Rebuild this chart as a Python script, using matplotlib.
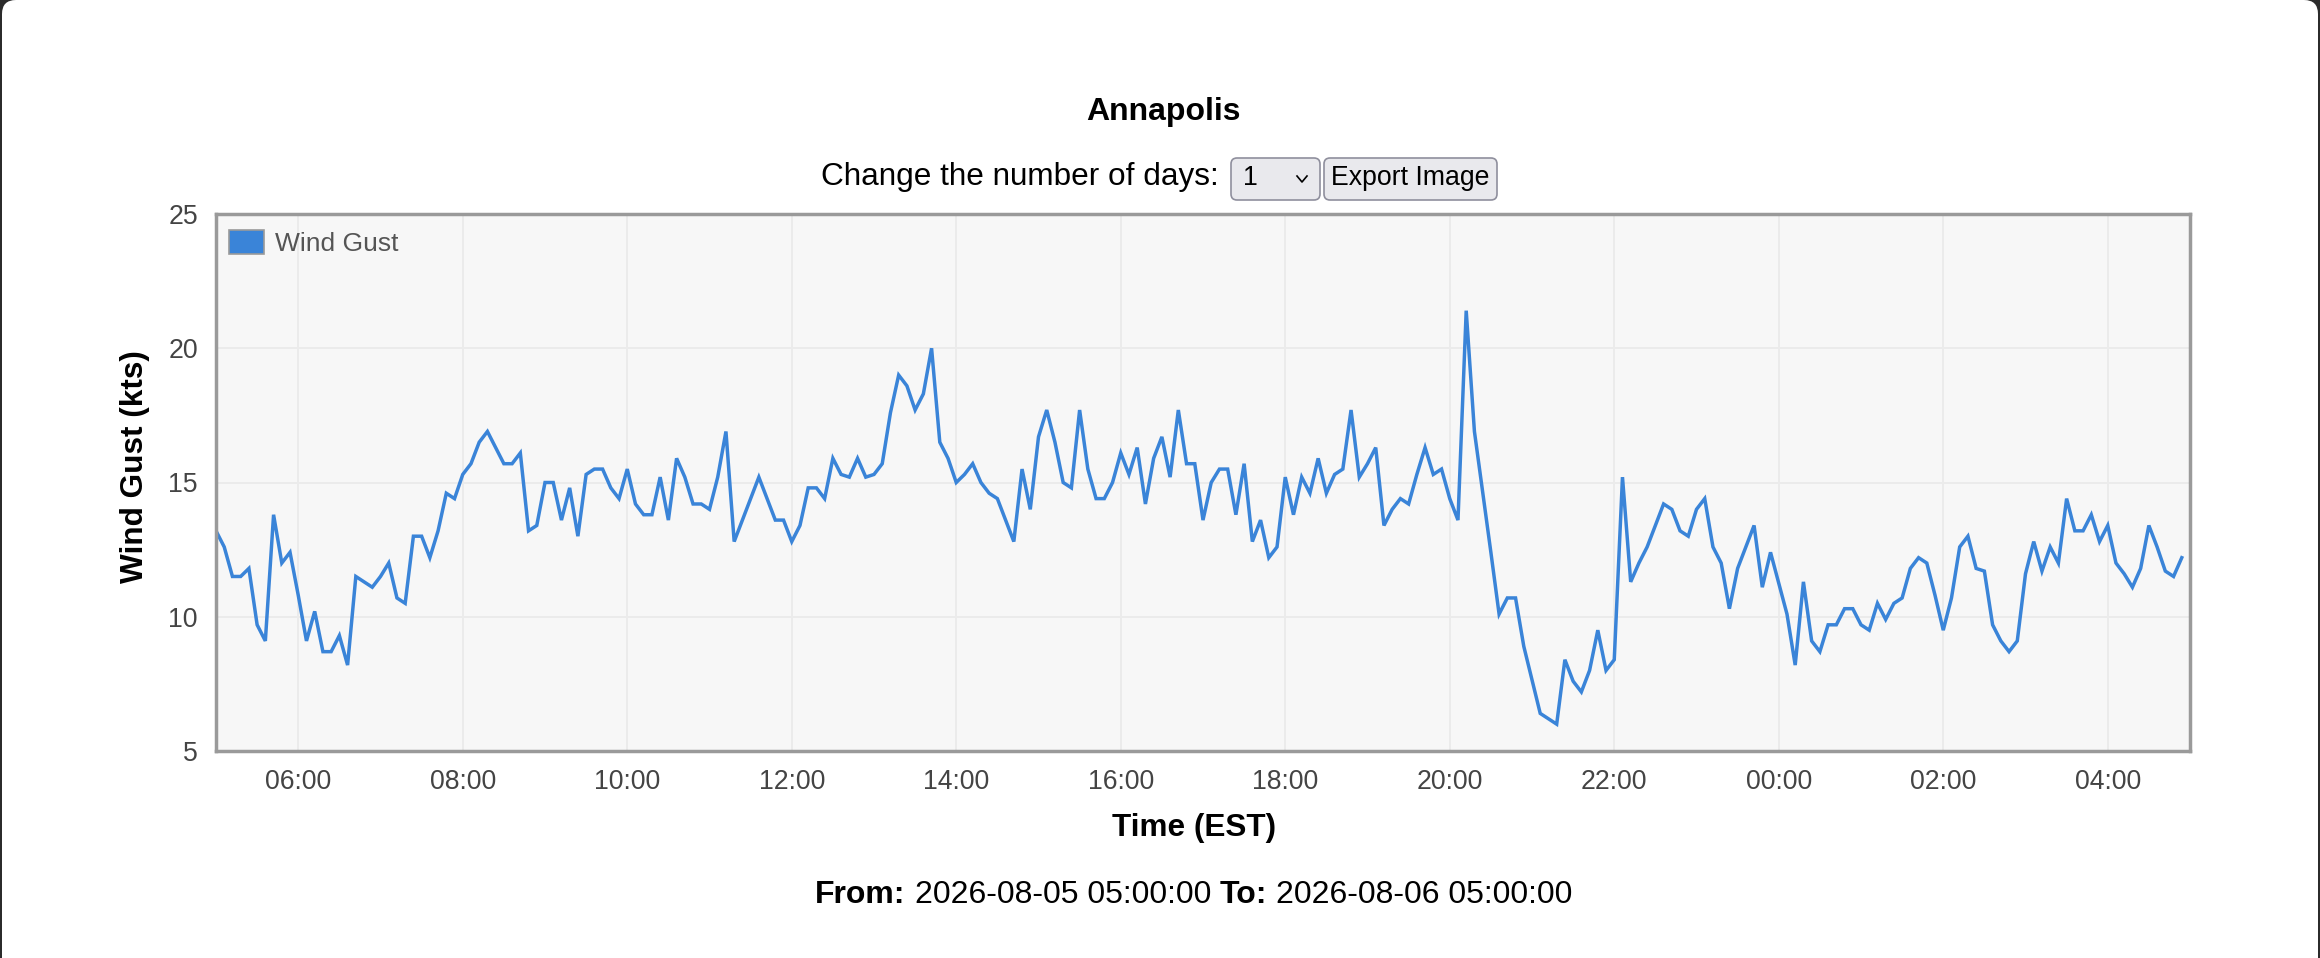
"""Annapolis wind gust chart: one day of 6-minute readings."""

import matplotlib

matplotlib.use("Agg")
import matplotlib.dates as mdates
import matplotlib.pyplot as plt
import pandas as pd
from matplotlib.lines import Line2D
from matplotlib.patches import FancyBboxPatch, Patch
from matplotlib.transforms import IdentityTransform

plt.rcParams["font.family"] = ["Liberation Sans", "DejaVu Sans"]

W, H = 2320, 958

C_LINE = "#3a84d8"
C_BORDER = "#9a9a9a"
C_GRID = "#ebebeb"
C_PLOT_BG = "#f7f7f7"
C_TICK = "#444444"

STATION = "Annapolis"
START = "2026-08-05 05:00:00"
END = "2026-08-06 05:00:00"

# clock times (EST); hours before 05:00 belong to the next day
TIMES = [
    "05:00", "05:06", "05:12", "05:18", "05:24", "05:30", "05:36", "05:42", "05:48", "05:54",
    "06:00", "06:06", "06:12", "06:18", "06:24", "06:30", "06:36", "06:42", "06:48", "06:54",
    "07:00", "07:06", "07:12", "07:18", "07:24", "07:30", "07:36", "07:42", "07:48", "07:54",
    "08:00", "08:06", "08:12", "08:18", "08:24", "08:30", "08:36", "08:42", "08:48", "08:54",
    "09:00", "09:06", "09:12", "09:18", "09:24", "09:30", "09:36", "09:42", "09:48", "09:54",
    "10:00", "10:06", "10:12", "10:18", "10:24", "10:30", "10:36", "10:42", "10:48", "10:54",
    "11:00", "11:06", "11:12", "11:18", "11:36", "11:48", "11:54",
    "12:00", "12:06", "12:12", "12:18", "12:24", "12:30", "12:36", "12:42", "12:48", "12:54",
    "13:00", "13:06", "13:12", "13:18", "13:24", "13:30", "13:36", "13:42", "13:48", "13:54",
    "14:00", "14:06", "14:12", "14:18", "14:24", "14:30", "14:42", "14:48", "14:54",
    "15:00", "15:06", "15:12", "15:18", "15:24", "15:30", "15:36", "15:42", "15:48", "15:54",
    "16:00", "16:06", "16:12", "16:18", "16:24", "16:30", "16:36", "16:42", "16:48", "16:54",
    "17:00", "17:06", "17:12", "17:18", "17:24", "17:30", "17:36", "17:42", "17:48", "17:54",
    "18:00", "18:06", "18:12", "18:18", "18:24", "18:30", "18:36", "18:42", "18:48", "18:54",
    "19:00", "19:06", "19:12", "19:18", "19:24", "19:30", "19:36", "19:42", "19:48", "19:54",
    "20:00", "20:06", "20:12", "20:18", "20:30", "20:36", "20:42", "20:48", "20:54",
    "21:06", "21:18", "21:24", "21:30", "21:36", "21:42", "21:48", "21:54",
    "22:00", "22:06", "22:12", "22:18", "22:24", "22:30", "22:36", "22:42", "22:48", "22:54",
    "23:00", "23:06", "23:12", "23:18", "23:24", "23:30", "23:36", "23:42", "23:48", "23:54",
    "00:06", "00:12", "00:18", "00:24", "00:30", "00:36", "00:42", "00:48", "00:54",
    "01:00", "01:06", "01:12", "01:18", "01:24", "01:30", "01:36", "01:42", "01:48", "01:54",
    "02:00", "02:06", "02:12", "02:18", "02:24", "02:30", "02:36", "02:42", "02:48", "02:54",
    "03:00", "03:06", "03:12", "03:18", "03:24", "03:30", "03:36", "03:42", "03:48", "03:54",
    "04:00", "04:06", "04:12", "04:18", "04:24", "04:30", "04:36", "04:42", "04:48", "04:54",
]

GUST = [
    13.2, 12.6, 11.5, 11.5, 11.8, 9.7, 9.1, 13.8, 12.0, 12.4,
    10.8, 9.1, 10.2, 8.7, 8.7, 9.3, 8.2, 11.5, 11.3, 11.1,
    11.5, 12.0, 10.7, 10.5, 13.0, 13.0, 12.2, 13.2, 14.6, 14.4,
    15.3, 15.7, 16.5, 16.9, 16.3, 15.7, 15.7, 16.1, 13.2, 13.4,
    15.0, 15.0, 13.6, 14.8, 13.0, 15.3, 15.5, 15.5, 14.8, 14.4,
    15.5, 14.2, 13.8, 13.8, 15.2, 13.6, 15.9, 15.2, 14.2, 14.2,
    14.0, 15.2, 16.9, 12.8, 15.2, 13.6, 13.6,
    12.8, 13.4, 14.8, 14.8, 14.4, 15.9, 15.3, 15.2, 15.9, 15.2,
    15.3, 15.7, 17.6, 19.0, 18.6, 17.7, 18.3, 20.0, 16.5, 15.9,
    15.0, 15.3, 15.7, 15.0, 14.6, 14.4, 12.8, 15.5, 14.0,
    16.7, 17.7, 16.5, 15.0, 14.8, 17.7, 15.5, 14.4, 14.4, 15.0,
    16.1, 15.3, 16.3, 14.2, 15.9, 16.7, 15.2, 17.7, 15.7, 15.7,
    13.6, 15.0, 15.5, 15.5, 13.8, 15.7, 12.8, 13.6, 12.2, 12.6,
    15.2, 13.8, 15.2, 14.6, 15.9, 14.6, 15.3, 15.5, 17.7, 15.2,
    15.7, 16.3, 13.4, 14.0, 14.4, 14.2, 15.3, 16.3, 15.3, 15.5,
    14.4, 13.6, 21.4, 16.9, 12.4, 10.1, 10.7, 10.7, 8.9,
    6.4, 6.0, 8.4, 7.6, 7.2, 8.0, 9.5, 8.0,
    8.4, 15.2, 11.3, 12.0, 12.6, 13.4, 14.2, 14.0, 13.2, 13.0,
    14.0, 14.4, 12.6, 12.0, 10.3, 11.8, 12.6, 13.4, 11.1, 12.4,
    10.1, 8.2, 11.3, 9.1, 8.7, 9.7, 9.7, 10.3, 10.3,
    9.7, 9.5, 10.5, 9.9, 10.5, 10.7, 11.8, 12.2, 12.0, 10.8,
    9.5, 10.7, 12.6, 13.0, 11.8, 11.7, 9.7, 9.1, 8.7, 9.1,
    11.6, 12.8, 11.7, 12.6, 12.0, 14.4, 13.2, 13.2, 13.8, 12.8,
    13.4, 12.0, 11.6, 11.1, 11.8, 13.4, 12.6, 11.7, 11.5, 12.2,
]

Y_TICKS = [5, 10, 15, 20, 25]


def fx(x):
    return x / W


def fy(y):
    return 1 - y / H


def to_timestamps(clock_times):
    stamps = []
    for t in clock_times:
        day = "2026-08-05" if int(t[:2]) >= 5 else "2026-08-06"
        stamps.append(pd.Timestamp(f"{day} {t}"))
    return stamps


def rounded_box(fig, x0, y0, x1, y1, face, edge, lw=1.2, r=6, zorder=1):
    # x/y in image pixels, y counted from the top
    box = FancyBboxPatch(
        (x0, H - y1), x1 - x0, y1 - y0,
        boxstyle=f"round,pad=0,rounding_size={r}",
        facecolor=face, edgecolor=edge, linewidth=lw,
        transform=IdentityTransform(), zorder=zorder,
    )
    fig.add_artist(box)


def draw_controls(fig):
    fig.text(fx(1163), fy(120), STATION, ha="center", va="baseline",
             fontsize=23, fontweight="bold", color="black")
    fig.text(fx(1219), fy(185), "Change the number of days:", ha="right",
             va="baseline", fontsize=22.7, color="black")

    rounded_box(fig, 1231, 158, 1320, 200, "#e9e9ed", "#8f8f9d")
    fig.text(fx(1243), fy(185), "1", ha="left", va="baseline", fontsize=19.2, color="black")
    chevron = Line2D([fx(1297), fx(1302), fx(1307)], [fy(176), fy(182), fy(176)],
                     color="black", linewidth=1.2, transform=fig.transFigure)
    fig.add_artist(chevron)

    rounded_box(fig, 1324, 158, 1497, 200, "#e9e9ed", "#8f8f9d")
    fig.text(fx(1410), fy(185), "Export Image", ha="center", va="baseline",
             fontsize=19.2, color="black")


def draw_range_line(fig):
    pieces = [
        ("From:", "bold"),
        (f"{START}", "normal"),
        ("To:", "bold"),
        (f"{END}", "normal"),
    ]
    renderer = fig.canvas.get_renderer()
    probe = fig.text(0, 0, "x x", fontsize=23)
    probe2 = fig.text(0, 0, "xx", fontsize=23)
    gap = (probe.get_window_extent(renderer).width
           - probe2.get_window_extent(renderer).width)
    probe.remove()
    probe2.remove()

    texts = [fig.text(0, fy(903), s, fontsize=23, fontweight=w, va="baseline",
                      color="black") for s, w in pieces]
    widths = [t.get_window_extent(renderer).width for t in texts]
    total = sum(widths) + gap * (len(texts) - 1)
    x = 1194 - total / 2
    for t, w in zip(texts, widths):
        t.set_x(fx(x))
        x += w + gap


def main():
    fig = plt.figure(figsize=(W / 100, H / 100), dpi=100)
    fig.patch.set_facecolor("#2b2b2b")
    # white page with rounded top corners, sits behind everything else
    rounded_box(fig, 2, 0, W - 2, H + 40, "white", "none", lw=0, r=14, zorder=-10)

    draw_controls(fig)

    ax = fig.add_axes([fx(216), fy(751), fx(2190) - fx(216), fy(214) - fy(751)])
    ax.set_facecolor(C_PLOT_BG)

    times = to_timestamps(TIMES)
    ax.plot(times, GUST, color=C_LINE, linewidth=2.5, solid_joinstyle="miter")

    ax.set_xlim(pd.Timestamp(START), pd.Timestamp(END))
    ax.set_ylim(Y_TICKS[0], Y_TICKS[-1])
    ax.set_yticks(Y_TICKS)
    ax.xaxis.set_major_locator(mdates.HourLocator(byhour=range(0, 24, 2)))
    ax.xaxis.set_major_formatter(mdates.DateFormatter("%H:%M"))

    ax.grid(True, color=C_GRID, linewidth=1.4)
    ax.set_axisbelow(True)
    for spine in ax.spines.values():
        spine.set_color(C_BORDER)
        spine.set_linewidth(2.5)
    ax.tick_params(axis="both", length=0, labelsize=19.2, labelcolor=C_TICK)
    ax.tick_params(axis="x", pad=13)
    ax.tick_params(axis="y", pad=13)

    handle = Patch(facecolor=C_LINE, edgecolor=C_BORDER, linewidth=1.2, label="Wind Gust")
    leg = ax.legend(handles=[handle], loc="upper left", frameon=False, fontsize=19,
                    handlelength=1.33, handleheight=1.0, handletextpad=0.42,
                    borderaxespad=0, borderpad=0,
                    bbox_to_anchor=(13 / 1974, 1 - 16 / 537))
    for txt in leg.get_texts():
        txt.set_color("#555555")

    fig.text(fx(135), fy(467), "Wind Gust (kts)", rotation=90, ha="center", va="center",
             fontsize=22.7, fontweight="bold", color="black")
    fig.text(fx(1194), fy(828), "Time (EST)", ha="center", va="center",
             fontsize=22.7, fontweight="bold", color="black")

    draw_range_line(fig)

    fig.savefig("out.png", dpi=100, facecolor=fig.get_facecolor())
    plt.close(fig)


if __name__ == "__main__":
    main()
